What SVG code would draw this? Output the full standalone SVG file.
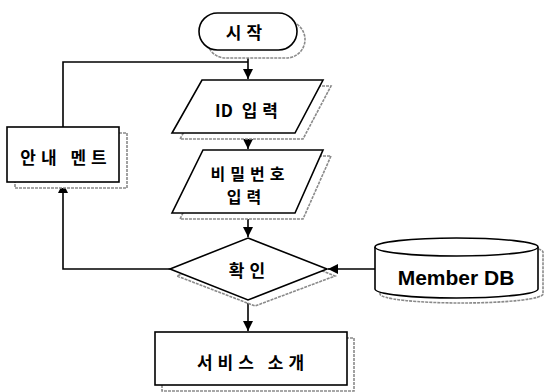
<svg xmlns="http://www.w3.org/2000/svg" width="544" height="392" viewBox="0 0 544 392">
<style>
.shape{fill:#fff;stroke:#000;stroke-width:1.6}
.shadow{fill:#fff;stroke:#8a8a8a;stroke-width:1.6;stroke-dasharray:3 1}
.lbl{font-family:"Noto Sans CJK KR","Liberation Sans",sans-serif;font-size:17px;font-weight:700;letter-spacing:5px;text-anchor:middle;dominant-baseline:central;fill:#000}
.en{font-family:"Liberation Sans",Arial,sans-serif;font-size:21px;font-weight:700;text-anchor:middle;dominant-baseline:central;fill:#000}
.conn{fill:none;stroke:#000;stroke-width:1.6}
</style>
<defs>
<marker id="arr" markerUnits="userSpaceOnUse" markerWidth="10" markerHeight="10" refX="10" refY="5" orient="auto">
<path d="M0,0 L10,5 L0,10 z" fill="#000"/>
</marker>
</defs>
<g id="connectors">
<path class="conn" d="M248,50 V79" marker-end="url(#arr)"/>
<path class="conn" d="M248,133 V149" marker-end="url(#arr)"/>
<path class="conn" d="M248,213 V237" marker-end="url(#arr)"/>
<path class="conn" d="M170,269 H63 V183" marker-end="url(#arr)"/>
<path class="conn" d="M63,127 V62 H248"/>
<path class="conn" d="M375,269 H328" marker-end="url(#arr)"/>
<path class="conn" d="M248,300 V331" marker-end="url(#arr)"/>
</g>
<g id="start">
<rect class="shadow" x="207" y="21" width="98" height="37" rx="18.5"/>
<rect class="shape" x="199" y="13" width="98" height="37" rx="18.5"/>
<text class="lbl" x="246.5" y="31">시작</text>
</g>
<g id="id-input">
<polygon class="shadow" points="210,86 331,86 303,139 180,139"/>
<polygon class="shape" points="202,80 323,80 295,133 172,133"/>
<text class="lbl" x="249" y="109"><tspan letter-spacing="0">ID</tspan> 입력</text>
</g>
<g id="pw-input">
<polygon class="shadow" points="211,156 331,156 303,219 180,219"/>
<polygon class="shape" points="203,150 323,150 295,213 172,213"/>
<text class="lbl" x="250" y="172.5" style="font-size:16px">비밀번호</text>
<text class="lbl" x="246.5" y="196" style="font-size:16px">입력</text>
</g>
<g id="guide">
<rect class="shadow" x="15" y="133" width="112" height="55"/>
<rect class="shape" x="7" y="127" width="112" height="55"/>
<text class="lbl" x="66" y="156">안내 멘트</text>
</g>
<g id="check">
<polygon class="shadow" points="255,244 335,276 255,306 177,276"/>
<polygon class="shape" points="248,238 327,269 248,300 170,269"/>
<text class="lbl" x="249.5" y="269">확인</text>
</g>
<g id="member-db">
<path class="shadow" d="M380,252 A81.5,9 0 0 1 543,252 V294 A81.5,9 0 0 1 380,294 Z"/>
<path class="shape" d="M375,247 A81.5,9 0 0 1 538,247 V289 A81.5,9 0 0 1 375,289 Z"/>
<path class="shape" d="M375,247 A81.5,9 0 0 0 538,247" fill="none"/>
<text class="en" x="456" y="277">Member DB</text>
</g>
<g id="service">
<rect class="shadow" x="162" y="338" width="192" height="53"/>
<rect class="shape" x="155" y="332" width="192" height="53"/>
<text class="lbl" x="253" y="361">서비스 소개</text>
</g>
</svg>
